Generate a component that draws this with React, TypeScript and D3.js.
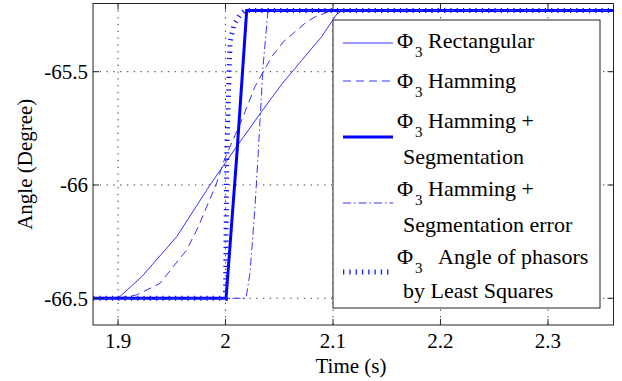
import React from "react";
import * as d3 from "d3";

// axis ticks
const xTicks = [1.9, 2.0, 2.1, 2.2, 2.3];
const yTicks = [-66.5, -66, -65.5];

// Φ3 Rectangular
const rectT = [1.8767, 1.9, 1.922, 1.9546, 1.9856, 2.0104, 2.0337, 2.0523, 2.0709, 2.0895, 2.0988, 2.1037, 2.1084, 2.361];
const rectV = [-66.5, -66.5, -66.405, -66.228, -66.0, -65.83, -65.675, -65.555, -65.45, -65.345, -65.279, -65.245, -65.232, -65.23];

// Φ3 Hamming
const hamT = [1.8767, 1.9, 1.9174, 1.9391, 1.9512, 1.9639, 1.9747, 1.984, 1.9918, 1.998, 2.0042, 2.0151, 2.0274, 2.043, 2.0538, 2.0647, 2.0755, 2.0833, 2.0956, 2.1019, 2.361];
const hamV = [-66.5, -66.5, -66.485, -66.434, -66.361, -66.287, -66.184, -66.079, -65.991, -65.9, -65.831, -65.713, -65.566, -65.434, -65.368, -65.324, -65.28, -65.258, -65.236, -65.23, -65.23];

// Φ3 Hamming + Segmentation
const segT = [1.8767, 2.0005, 2.0104, 2.0197, 2.361];
const segV = [-66.5, -66.5, -65.876, -65.23, -65.23];

// Φ3 Hamming + Segmentation error
const errT = [1.8767, 2.0191, 2.0228, 2.0274, 2.0302, 2.0349, 2.0395, 2.361];
const errV = [-66.5, -66.5, -66.388, -66.097, -65.876, -65.479, -65.23, -65.23];

// Φ3 Angle of phasors by Least Squares
const lsT = [1.8767, 2.0, 2.0012, 2.0042, 2.008, 2.0135, 2.0181, 2.361];
const lsV = [-66.5, -66.5, -65.85, -65.37, -65.29, -65.25, -65.23, -65.23];

const legendLines = [
  ["Rectangular"],
  ["Hamming"],
  ["Hamming +", "Segmentation"],
  ["Hamming +", "Segmentation error"],
  ["Angle of phasors", "by Least Squares"],
];

const FONT = "Liberation Serif";

const styles = [
  { stroke: "#3535ff", width: 1, dash: "none" },
  { stroke: "#3535ff", width: 1, dash: "8,5" },
  { stroke: "#0000ff", width: 3, dash: "none" },
  { stroke: "#3535ff", width: 1, dash: "8,3,1.5,3" },
  { stroke: "#1a1aff", width: 5, dash: "1.3,5" },
];

export default function App() {
  const left = 93, right = 613.5, top = 3.5, bottom = 325;
  const x = d3.scaleLinear().domain([1.8767, 2.361]).range([left, right]);
  const y = d3.scaleLinear().domain([-66.618, -65.199]).range([bottom, top]);

  const line = d3
    .line<[number, number]>()
    .x((d) => x(d[0]))
    .y((d) => y(d[1]));

  const series = [
    [rectT, rectV],
    [hamT, hamV],
    [segT, segV],
    [errT, errV],
    [lsT, lsV],
  ].map(([t, v]) => t.map((tt, i) => [tt, v[i]] as [number, number]));

  // legend layout
  const lgX = 333, lgY = 20, lgW = 267, lgH = 288;
  const sampleY = [43, 81, 137, 203, 272];
  const rowBase = [[48], [88], [128, 164], [196, 232], [264, 298]];
  const ts = { fontFamily: FONT };

  return (
    <div style={{ position: "fixed", left: 0, top: 0 }}>
      <svg width={622} height={381} style={{ display: "block", background: "#fff" }}>
        <defs>
          <clipPath id="plot">
            <rect x={left} y={top} width={right - left} height={bottom - top} />
          </clipPath>
        </defs>
        <rect x={0} y={0} width={622} height={381} fill="#fff" />

        {/* grid */}
        <g stroke="#333" strokeWidth={1} strokeDasharray="1.3,5.5">
          {xTicks.map((t) => (
            <line key={"gx" + t} x1={x(t)} x2={x(t)} y1={top} y2={bottom} />
          ))}
          {yTicks.map((t) => (
            <line key={"gy" + t} x1={left} x2={right} y1={y(t)} y2={y(t)} />
          ))}
        </g>

        {/* series */}
        <g clipPath="url(#plot)" fill="none">
          {series.map((s, i) => (
            <path
              key={i}
              d={line(s) || ""}
              stroke={styles[i].stroke}
              strokeWidth={styles[i].width}
              strokeDasharray={styles[i].dash}
            />
          ))}
        </g>

        {/* box and ticks */}
        <rect x={left} y={top} width={right - left} height={bottom - top} fill="none" stroke="#222" strokeWidth={1} />
        <g stroke="#222" strokeWidth={1}>
          {xTicks.map((t) => (
            <g key={"tx" + t}>
              <line x1={x(t)} x2={x(t)} y1={bottom} y2={bottom - 6} />
              <line x1={x(t)} x2={x(t)} y1={top} y2={top + 6} />
            </g>
          ))}
          {yTicks.map((t) => (
            <g key={"ty" + t}>
              <line x1={left} x2={left + 6} y1={y(t)} y2={y(t)} />
              <line x1={right} x2={right - 6} y1={y(t)} y2={y(t)} />
            </g>
          ))}
        </g>

        {/* tick labels */}
        <g fontSize={21} fill="#000">
          {xTicks.map((t) => (
            <text key={"lx" + t} x={x(t)} y={348} textAnchor="middle" style={ts}>
              {String(t)}
            </text>
          ))}
          {yTicks.map((t) => (
            <text key={"ly" + t} x={88} y={y(t)} dy="0.35em" textAnchor="end" style={ts}>
              {String(t)}
            </text>
          ))}
          <text x={351} y={373} textAnchor="middle" style={ts}>Time (s)</text>
          <text transform={`translate(32,${(top + bottom) / 2}) rotate(-90)`} textAnchor="middle" style={ts}>
            Angle (Degree)
          </text>
        </g>

        {/* legend */}
        <rect x={lgX} y={lgY} width={lgW} height={lgH} fill="#fff" stroke="#222" strokeWidth={1} />
        {legendLines.map((rows, i) => (
          <g key={"lg" + i}>
            <line
              x1={343}
              x2={393}
              y1={sampleY[i]}
              y2={sampleY[i]}
              stroke={styles[i].stroke}
              strokeWidth={styles[i].width}
              strokeDasharray={styles[i].dash}
            />
            <g fill="#000">
              <text x={397} y={rowBase[i][0]} fontSize={22} style={ts}>Φ</text>
              <text x={415} y={rowBase[i][0] + 8.5} fontSize={15} style={ts}>3</text>
              <text x={i === 4 ? 438 : 428} y={rowBase[i][0]} fontSize={22} style={ts}>
                {rows[0]}
              </text>
              {rows[1] && (
                <text x={403} y={rowBase[i][1]} fontSize={22} style={ts}>
                  {rows[1]}
                </text>
              )}
            </g>
          </g>
        ))}
      </svg>
    </div>
  );
}
